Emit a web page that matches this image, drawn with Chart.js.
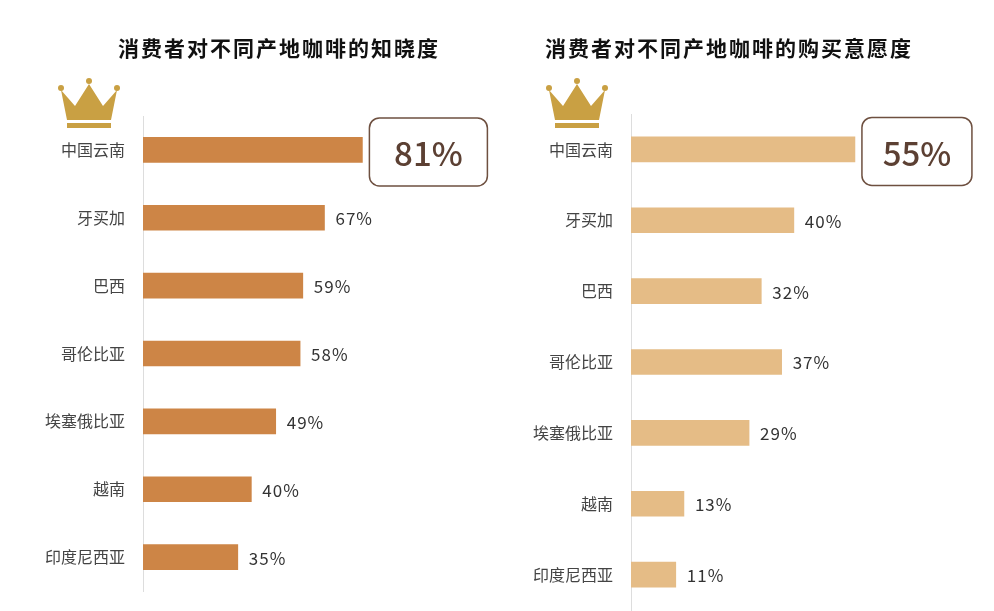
<!DOCTYPE html>
<html>
<head>
<meta charset="utf-8">
<script src="https://cdn.jsdelivr.net/npm/chart.js@4/dist/chart.umd.min.js"></script>
<style>
  body { margin: 0; background: #fff; overflow: hidden; }
  .box { position: absolute; top: 0; width: 497px; height: 640px; }
</style>
</head>
<body>
<div class="box" style="left:0"><canvas id="c1"></canvas></div>
<div class="box" style="left:497px"><canvas id="c2"></canvas></div>
<script>
const origins = ["中国云南", "牙买加", "巴西", "哥伦比亚", "埃塞俄比亚", "越南", "印度尼西亚"];
const awareness = [81, 67, 59, 58, 49, 40, 35];
const purchase = [55, 40, 32, 37, 29, 13, 11];

const font = '"Noto Sans CJK SC", "Noto Sans", sans-serif';

// crown + title + value labels
const decor = {
  id: "decor",
  afterDatasetsDraw(chart, args, opts) {
    const ctx = chart.ctx;
    const area = chart.chartArea;
    const meta = chart.getDatasetMeta(0);
    ctx.save();

    ctx.fillStyle = "#111";
    ctx.font = "bold 21px " + font;
    ctx.letterSpacing = "2px";
    ctx.textAlign = "center";
    ctx.textBaseline = "middle";
    ctx.fillText(opts.title, opts.titleX, 48);
    ctx.letterSpacing = "0px";

    // crown
    const cx = area.left - 54, cy = 104;
    ctx.fillStyle = "#c9a043";
    ctx.beginPath();
    ctx.moveTo(cx - 28, cy - 14);
    ctx.lineTo(cx - 14, cy + 2);
    ctx.lineTo(cx, cy - 20);
    ctx.lineTo(cx + 14, cy + 2);
    ctx.lineTo(cx + 28, cy - 14);
    ctx.lineTo(cx + 22, cy + 16);
    ctx.lineTo(cx - 22, cy + 16);
    ctx.closePath();
    ctx.fill();
    ctx.fillRect(cx - 22, cy + 19, 44, 5);
    [[-28, -16], [0, -23], [28, -16]].forEach(p => {
      ctx.beginPath();
      ctx.arc(cx + p[0], cy + p[1], 3, 0, Math.PI * 2);
      ctx.fill();
    });

    meta.data.forEach((bar, i) => {
      const v = chart.data.datasets[0].data[i] + "%";
      if (i === 0) {
        const bx = bar.x + 7, by = bar.y - 32, bw = opts.boxW, bh = 68;
        ctx.strokeStyle = "#6e5040";
        ctx.lineWidth = 1.5;
        ctx.beginPath();
        ctx.roundRect(bx, by, bw, bh, 10);
        ctx.stroke();
        ctx.fillStyle = "#5c4033";
        ctx.font = "500 33px " + font;
        ctx.textAlign = "center";
        ctx.fillText(v, bx + bw / 2, by + bh / 2 + 2);
      } else {
        ctx.fillStyle = "#333";
        ctx.font = "17px " + font;
        ctx.letterSpacing = "1px";
        ctx.textAlign = "left";
        ctx.fillText(v, bar.x + 11, bar.y + 1);
        ctx.letterSpacing = "0px";
      }
    });
    ctx.restore();
  }
};

function makeChart(id, values, color, axisW, top, bottom, max, title, titleX, boxW) {
  return new Chart(document.getElementById(id), {
    type: "bar",
    data: {
      labels: origins,
      datasets: [{ data: values, backgroundColor: color, barThickness: 25 }]
    },
    options: {
      indexAxis: "y",
      responsive: true,
      maintainAspectRatio: false,
      animation: false,
      layout: { padding: { top: top, bottom: bottom, right: 10 } },
      scales: {
        x: { display: false, min: 0, max: max },
        y: {
          afterFit(scale) { scale.width = axisW; },
          grid: { display: false },
          border: { color: "#ddd", width: 1 },
          ticks: { color: "#444", font: { family: font, size: 16 }, padding: 10 }
        }
      },
      plugins: {
        legend: { display: false },
        tooltip: { enabled: false },
        decor: { title: title, titleX: titleX, boxW: boxW }
      }
    },
    plugins: [decor]
  });
}

makeChart("c1", awareness, "#cd8546", 143, 116, 49, 127, "消费者对不同产地咖啡的知晓度", 279, 118);
makeChart("c2", purchase, "#e5bc86", 134, 114, 30, 86.7, "消费者对不同产地咖啡的购买意愿度", 232, 110);
</script>
</body>
</html>
